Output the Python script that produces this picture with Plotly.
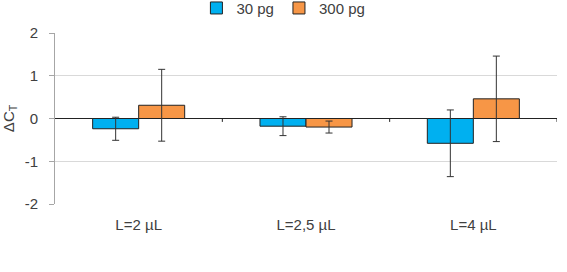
import plotly.graph_objects as go

categories = ["L=2 µL", "L=2,5 µL", "L=4 µL"]
series_names = ["30 pg", "300 pg"]
vals_30 = [-0.24, -0.18, -0.58]
err_30 = [0.27, 0.22, 0.78]
vals_300 = [0.31, -0.20, 0.46]
err_300 = [0.84, 0.14, 1.0]
yticks = [-2, -1, 0, 1, 2]
yticklabels = ["-2", "-1", "0", "1", "2"]

colors = ["#00B0F0", "#F79646"]

fig = go.Figure()
for name, vals, errs, col in [(series_names[0], vals_30, err_30, colors[0]),
                              (series_names[1], vals_300, err_300, colors[1])]:
    fig.add_trace(go.Bar(
        x=categories, y=vals, name=name,
        marker=dict(color=col, line=dict(color="#222222", width=1)),
        error_y=dict(type="data", array=errs, visible=True, color="#333333",
                     thickness=1, width=3.5),
    ))

# category boundary ticks on the zero line
for b in [0.5, 1.5, 2.5]:
    fig.add_shape(type="line", xref="x", yref="y", x0=b, x1=b, y0=0, y1=-0.08,
                  line=dict(color="#222222", width=1))

fig.update_layout(
    width=567, height=272,
    margin=dict(l=55, r=10, t=33, b=68, autoexpand=False),
    paper_bgcolor="white", plot_bgcolor="white",
    barmode="group", bargap=0.45, bargroupgap=0,
    font=dict(family="Liberation Sans, Arial, sans-serif", size=15, color="#404040"),
    showlegend=True,
    legend=dict(orientation="h", x=0.455, xanchor="center", y=1.145, yanchor="middle",
                font=dict(size=15, color="#404040"), itemwidth=30,
                tracegroupgap=0, traceorder="normal"),
    xaxis=dict(showline=False, showgrid=False, ticks="", ticklabelstandoff=10,
               range=[-0.5, 2.5]),
    yaxis=dict(range=[-2, 2], tickvals=yticks, ticktext=yticklabels,
               showgrid=True, gridcolor="#D9D9D9",
               gridwidth=1, zeroline=True, zerolinecolor="#222222", zerolinewidth=1,
               showline=True, linecolor="#A6A6A6", linewidth=1,
               ticks="outside", ticklen=5, tickcolor="#A6A6A6",
               ticklabelstandoff=8,
               title=dict(text="ΔC<sub>T</sub>", standoff=8,
                          font=dict(size=15, color="#404040"))),
)

fig.write_html("out.html")
